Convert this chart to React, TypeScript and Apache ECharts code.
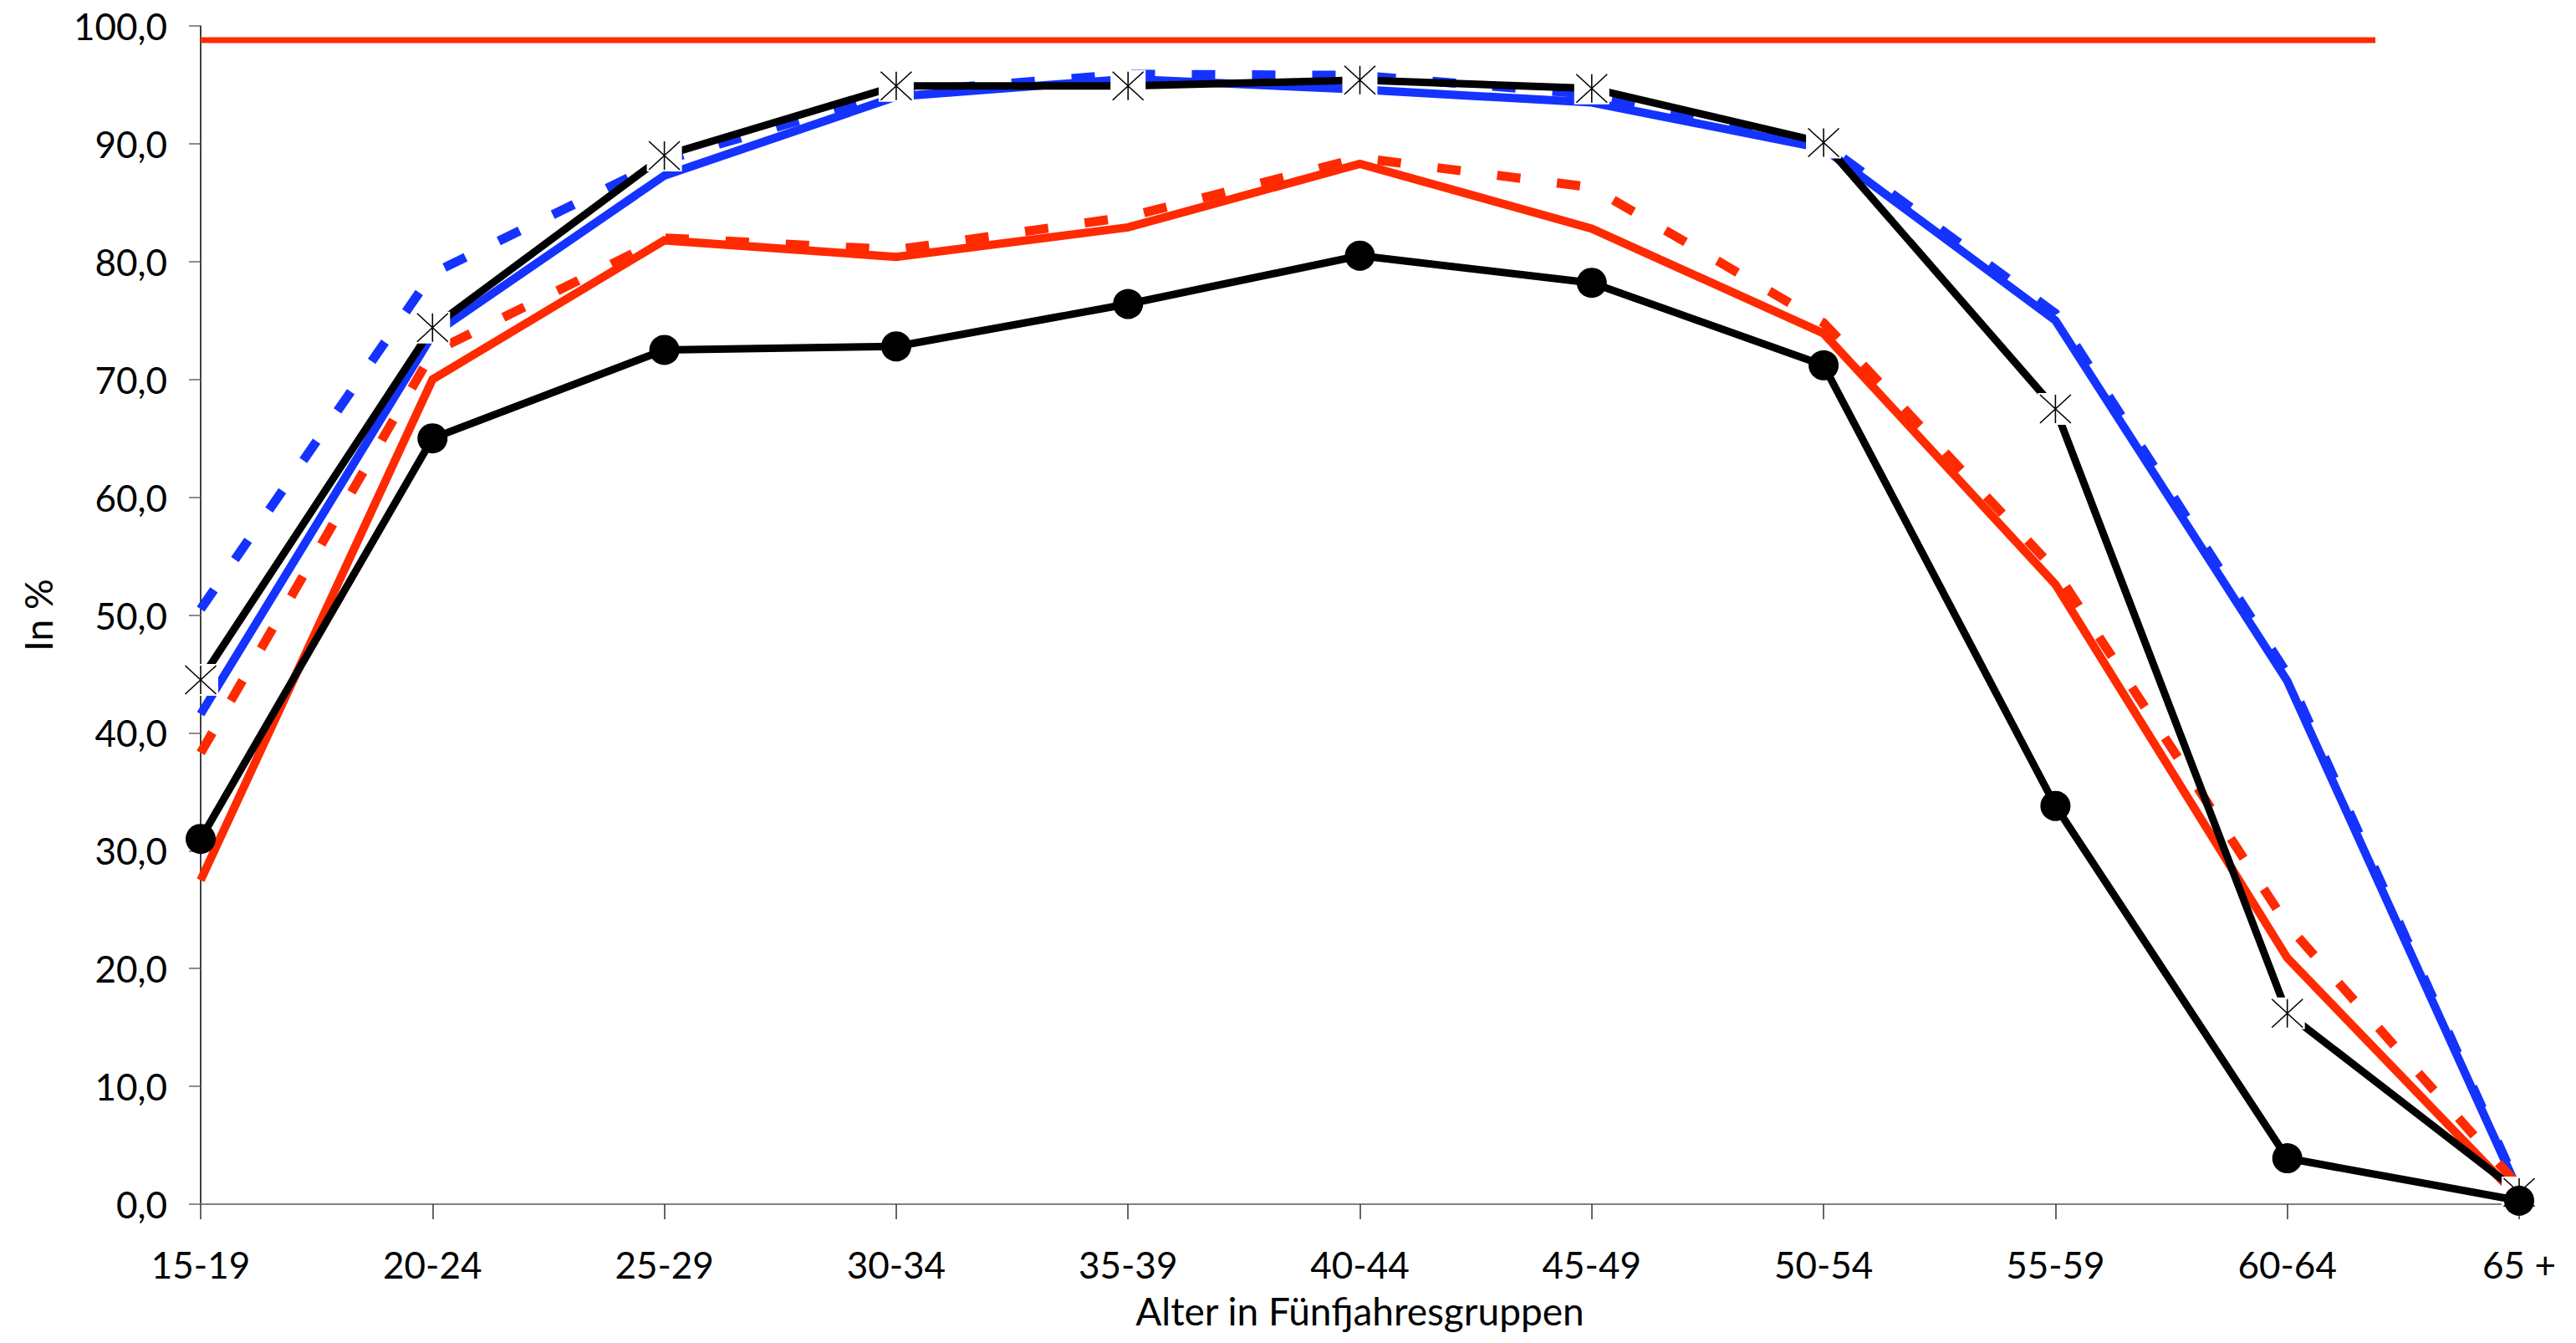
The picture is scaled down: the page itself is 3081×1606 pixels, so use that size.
import React, { useEffect, useRef } from "react";
import * as echarts from "echarts";

const categories = ["15-19", "20-24", "25-29", "30-34", "35-39", "40-44", "45-49", "50-54", "55-59", "60-64", "65 +"];
const blackDots = [31.0, 65.0, 72.5, 72.8, 76.4, 80.5, 78.2, 71.2, 33.8, 3.9, 0.3];
const blackStars = [44.5, 74.4, 89.0, 94.9, 94.9, 95.4, 94.7, 90.1, 67.5, 16.2, 1.0];
const blueSolid = [41.6, 73.8, 87.3, 94.0, 95.5, 94.6, 93.5, 89.6, 75.0, 44.4, 1.0];
const blueDashed = [50.5, 79.0, 88.6, 94.4, 95.9, 95.8, 94.2, 90.0, 75.6, 45.0, 1.2];
const redSolid = [27.5, 70.0, 81.8, 80.4, 82.9, 88.3, 82.8, 73.9, 52.6, 20.9, 0.5];
const redDashed = [38.3, 72.3, 82.0, 81.0, 83.8, 88.8, 86.3, 74.8, 53.8, 23.7, 1.5];
const refLine = [[0, 98.8], [9.38, 98.8]];

const RED = "#FF2A00";
const BLUE = "#1433FF";
const FONT = "Lato";
const STAR = "path://M0 0L37 34M37 0L0 34M18.5 0L18.5 34";

export default function App() {
  const ref = useRef<HTMLDivElement>(null);
  useEffect(() => {
    document.body.style.margin = "0";
    const chart = echarts.init(ref.current!, null, { renderer: "svg" });
    const lineBase = (data: number[], color: string, width: number, z: number, dashed: boolean) => ({
      type: "line",
      data,
      z,
      clip: false,
      silent: true,
      symbol: "none",
      showSymbol: false,
      lineStyle: { color, width, type: dashed ? [28, 44] : "solid", cap: "butt", join: "miter" },
    });
    chart.setOption({
      animation: false,
      backgroundColor: "#fff",
      grid: { left: 240, right: 68, top: 31, bottom: 166 },
      xAxis: [
        {
          type: "category",
          data: categories,
          boundaryGap: false,
          name: "Alter in Fünfjahresgruppen",
          nameLocation: "middle",
          nameGap: 104,
          nameTextStyle: { fontFamily: FONT, fontSize: 46, color: "#000" },
          axisLine: { lineStyle: { color: "#808080", width: 2 } },
          axisTick: { length: 18, lineStyle: { color: "#333", width: 1.5 } },
          axisLabel: { fontFamily: FONT, fontSize: 44, color: "#000", margin: 50, interval: 0 },
          splitLine: { show: false },
        },
        { type: "value", min: 0, max: 10, show: false },
      ],
      yAxis: {
        type: "value",
        min: 0,
        max: 100,
        interval: 10,
        name: "In %",
        nameLocation: "middle",
        nameGap: 172,
        nameTextStyle: { fontFamily: FONT, fontSize: 46, color: "#000" },
        axisLine: { show: true, lineStyle: { color: "#000", width: 1.5 } },
        axisTick: { show: true, length: 14, lineStyle: { color: "#666", width: 1.5 } },
        axisLabel: {
          fontFamily: FONT,
          fontSize: 44,
          color: "#000",
          margin: 40,
          formatter: (v: number) => v.toFixed(1).replace(".", ","),
        },
        splitLine: { show: false },
      },
      series: [
        {
          type: "line",
          xAxisIndex: 1,
          data: refLine,
          z: 2,
          clip: false,
          silent: true,
          symbol: "none",
          showSymbol: false,
          lineStyle: { color: RED, width: 7 },
        },
        lineBase(blueDashed, BLUE, 11, 2, true),
        lineBase(blueSolid, BLUE, 10, 3, false),
        lineBase(redDashed, RED, 11, 4, true),
        lineBase(redSolid, RED, 10, 5, false),
        lineBase(blackStars, "#000", 9, 6, false),
        {
          type: "scatter",
          data: blackStars,
          z: 7,
          silent: true,
          symbol: "rect",
          symbolSize: [42, 38],
          itemStyle: { color: "#fff", opacity: 1 },
        },
        {
          type: "scatter",
          data: blackStars,
          z: 8,
          silent: true,
          symbol: STAR,
          symbolSize: [37, 34],
          itemStyle: { color: "rgba(0,0,0,0)", borderColor: "#000", borderWidth: 1.5, opacity: 1 },
        },
        {
          type: "line",
          data: blackDots,
          z: 9,
          clip: false,
          silent: true,
          symbol: "circle",
          symbolSize: 36,
          showSymbol: true,
          itemStyle: { color: "#000", borderWidth: 0 },
          lineStyle: { color: "#000", width: 9 },
        },
      ],
    });
    return () => chart.dispose();
  }, []);
  return <div ref={ref} style={{ width: 3081, height: 1606 }} />;
}
